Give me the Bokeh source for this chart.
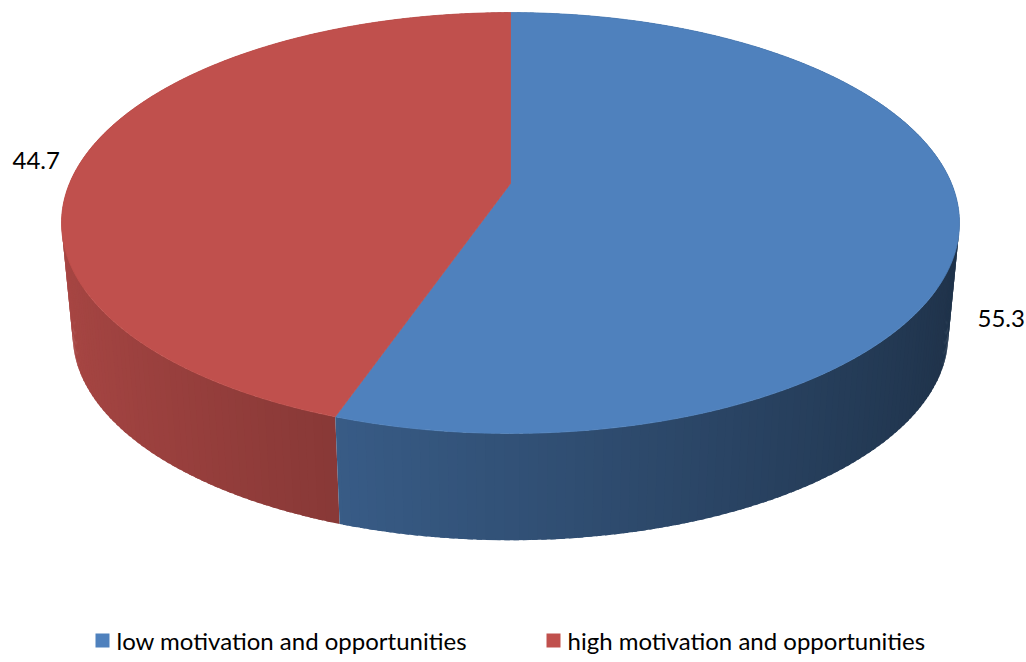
import numpy as np
from bokeh.plotting import figure
from bokeh.models import Range1d
from bokeh.embed import file_html
from bokeh.resources import INLINE
from bokeh.core.properties import value

# ---- data ----
categories = ["low motivation and opportunities", "high motivation and opportunities"]
values = [55.3, 44.7]
top_colors = ["#4F81BD", "#C0504D"]
label_pos = [(977, 318), (12, 160)]
legend_pos = [(95, 640), (546, 640)]

W, H = 1026, 662
p = figure(width=W, height=H, output_backend="svg", toolbar_location=None,
           x_range=Range1d(0, W), y_range=Range1d(H, 0), min_border=0,
           x_axis_type=None, y_axis_type=None)
p.grid.visible = False
p.outline_line_color = None
p.background_fill_color = "white"
p.border_fill_color = "white"

K = 0.1877
TOP = (510.0, 183.0, 441.0, 203.0)
BOT = (510.0, 296.0, 430.0, 198.0)


def proj(phi, geo):
    x0, y0, sx, sy = geo
    X = np.sin(phi)
    Z = -np.cos(phi)
    w = 1 - K * Z
    return x0 + sx * X / w, y0 + sy * Z / w


def hex2rgb(h):
    h = h.lstrip("#")
    return np.array([int(h[i:i + 2], 16) for i in (0, 2, 4)], dtype=float)


def rgb2hex(c):
    c = np.clip(np.round(c), 0, 255).astype(int)
    return "#%02x%02x%02x" % tuple(c)


total = sum(values)
fr = np.cumsum([0] + [v / total for v in values])

# side strips
strips = []
for i, v in enumerate(values):
    a0, a1 = 2 * np.pi * fr[i], 2 * np.pi * fr[i + 1]
    n = max(2, int(np.degrees(a1 - a0)))
    ang = np.linspace(a0, a1, n + 1)
    step = ang[1] - ang[0]
    base = hex2rgb(top_colors[i])
    for j in range(n):
        pa = ang[j]
        pb = min(ang[j + 1] + 0.6 * step, a1)
        pm = 0.5 * (ang[j] + ang[j + 1])
        xta, yta = proj(pa, TOP)
        xtb, ytb = proj(pb, TOP)
        xba, yba = proj(pa, BOT)
        xbb, ybb = proj(pb, BOT)
        Xm = np.sin(pm)
        f = 0.63 - 0.25 * Xm
        col = rgb2hex(base * f)
        strips.append((-np.cos(pm), [xta, xtb, xbb, xba], [yta, ytb, ybb, yba], col))
strips.sort(key=lambda s: s[0])
p.patches(xs=[s[1] for s in strips], ys=[s[2] for s in strips],
          fill_color=[s[3] for s in strips], line_color=None)

# top face
cx, cy = TOP[0], TOP[1]
for i, v in enumerate(values):
    a0, a1 = 2 * np.pi * fr[i], 2 * np.pi * fr[i + 1]
    ang = np.linspace(a0, a1, 200)
    xs, ys = proj(ang, TOP)
    p.patch(x=[cx] + list(xs), y=[cy] + list(ys), fill_color=top_colors[i],
            line_color=top_colors[i], line_width=0.8)

# data labels
p.text(x=[lp[0] for lp in label_pos], y=[lp[1] for lp in label_pos],
       text=["%.1f" % v for v in values], text_font=value("Lato"),
       text_font_size="24px", text_baseline="middle", text_align="left",
       text_color="black")

# legend
for i, c in enumerate(categories):
    lx, ly = legend_pos[i]
    p.rect(x=[lx + 7], y=[ly], width=14, height=14, fill_color=top_colors[i],
           line_color=None)
    p.text(x=[lx + 21], y=[ly], text=[c], text_font=value("Lato"),
           text_font_size="24px", text_baseline="middle", text_align="left",
           text_color="black")

open("out.html", "w").write(file_html(p, INLINE))
